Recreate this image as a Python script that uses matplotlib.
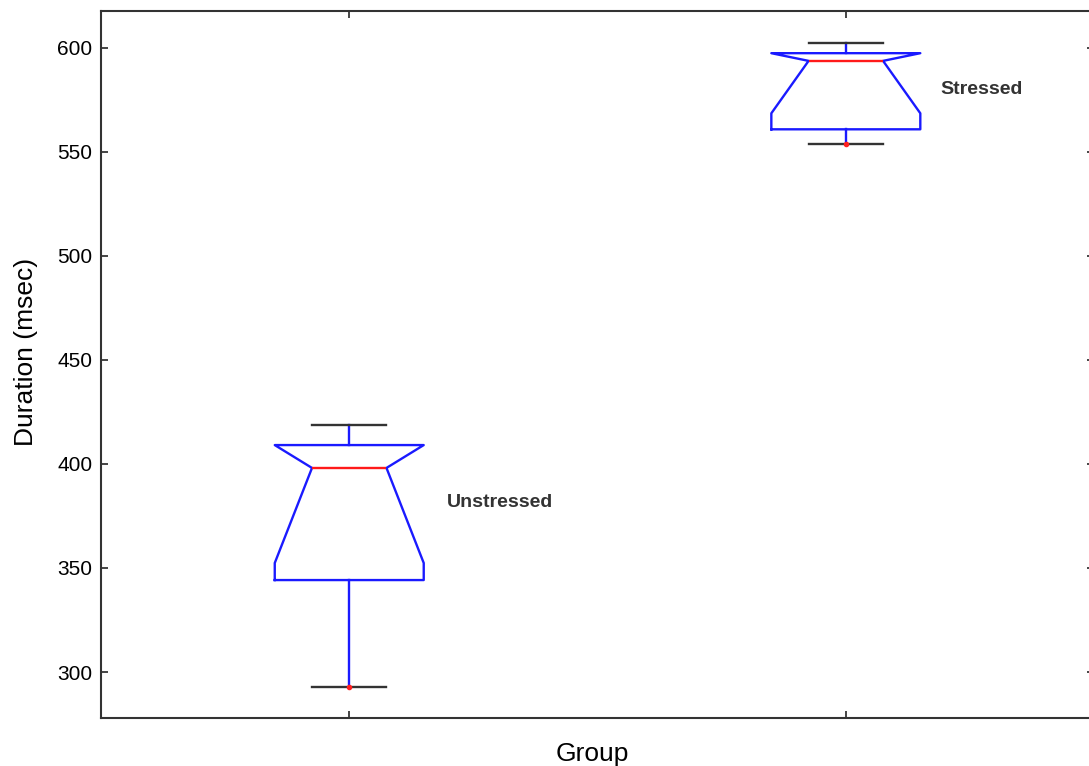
import matplotlib.pyplot as plt

plt.rcParams['font.family'] = ['Liberation Sans', 'DejaVu Sans']

groups = ['Unstressed', 'Stressed']
medians = [398.1, 593.8]
q1 = [344.2, 560.9]
q3 = [409.1, 597.5]
notch_lo = [352.4, 568.6]
notch_hi = [409.1, 597.5]
whisk_lo = [292.8, 553.7]
whisk_hi = [418.8, 602.3]
outliers = [[292.8], [553.7]]

stats = []
for i in range(len(groups)):
    stats.append({'label': groups[i], 'med': medians[i], 'q1': q1[i], 'q3': q3[i],
                  'cilo': notch_lo[i], 'cihi': notch_hi[i],
                  'whislo': whisk_lo[i], 'whishi': whisk_hi[i],
                  'fliers': outliers[i]})

fig = plt.figure(figsize=(10.89, 7.66), dpi=100)
ax = fig.add_axes([0.0927, 0.0627, 0.912, 0.923])

ax.bxp(stats, positions=[1, 2], widths=0.3, shownotches=True,
       boxprops=dict(color='#1a1aff', linewidth=1.7),
       whiskerprops=dict(color='#1a1aff', linewidth=1.7),
       capprops=dict(color='#333333', linewidth=1.7),
       medianprops=dict(color='#ff1a1a', linewidth=1.7),
       flierprops=dict(marker='o', markersize=3, markerfacecolor='#ff2020',
                       markeredgecolor='#ff2020'))

ax.text(1.196, 381.5, 'Unstressed', fontsize=14, fontweight='bold', va='center', ha='left', color='#333333')
ax.text(2.19, 579.8, 'Stressed', fontsize=14, fontweight='bold', va='center', ha='left', color='#333333')

ax.set_xlim(0.5, 2.5)
ax.set_ylim(277.9, 617.8)
ax.set_xticks([1, 2])
ax.set_yticks([300, 350, 400, 450, 500, 550, 600])
ax.tick_params(direction='in', top=True, right=True, length=5, width=1.4,
               color='#444444', labelsize=15, pad=6, labelbottom=False)
for s in ax.spines.values():
    s.set_color('#333333')
    s.set_linewidth(1.5)

ax.set_xlabel('Group', fontsize=19)
ax.xaxis.set_label_coords(0.495, -0.034)
ax.set_ylabel('Duration (msec)', fontsize=19)
ax.yaxis.set_label_coords(-0.063, 0.518)

fig.savefig('out.png', dpi=100)
